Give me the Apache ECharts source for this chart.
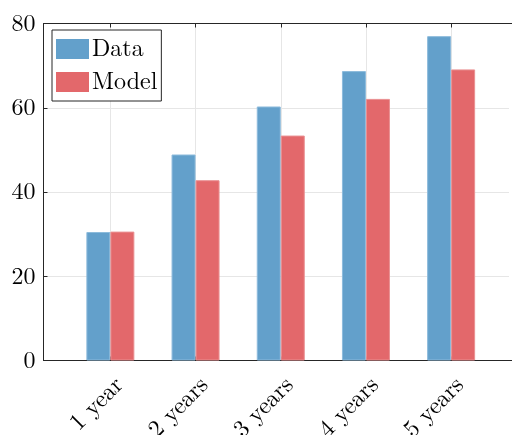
<!DOCTYPE html>
<html>
<head>
<meta charset="utf-8">
<script src="https://cdn.jsdelivr.net/npm/echarts@6/dist/echarts.min.js"></script>
<style>
  html, body { margin: 0; padding: 0; background: #fff; overflow: hidden; }
  #chart { width: 512px; height: 435px; }
</style>
</head>
<body>
<div id="chart"></div>
<script>
// 数据
const categories = ["1 year", "2 years", "3 years", "4 years", "5 years"];
const positions = [1, 2, 3, 4, 5];
const dataValues = [30.5, 48.9, 60.3, 68.7, 77.0];
const modelValues = [30.6, 42.8, 53.4, 62.1, 69.1];
const yTicks = [0, 20, 40, 60, 80];

const font = '"Latin Modern Roman", "Liberation Serif", "DejaVu Serif", serif';
const axisColor = "#262626";

const myChart = echarts.init(document.querySelector("#chart"));

// x轴范围 右边超出画布
const xMin = 0.215;
const xMax = 5.785;

const option = {
  animation: false,
  textStyle: { fontFamily: font },
  grid: {
    left: 43.5,
    top: 23.5,
    right: -6,
    bottom: 74.5,
    containLabel: false,
    outerBoundsMode: "none",
  },
  // 右边缘多出来的竖线 用白条盖住
  graphic: [
    {
      type: "rect",
      right: 0,
      top: 25,
      z: 100,
      shape: { width: 3, height: 334 },
      style: { fill: "#fff" },
      silent: true,
    },
  ],
  legend: {
    data: ["Data", "Model"],
    orient: "vertical",
    left: 52,
    top: 30,
    itemWidth: 33,
    itemHeight: 20,
    itemGap: 9,
    padding: [7, 4, 7, 4],
    borderColor: axisColor,
    borderWidth: 1,
    backgroundColor: "#fff",
    icon: "rect",
    itemStyle: { borderWidth: 0 },
    textStyle: { fontFamily: font, fontSize: 24, color: "#000", padding: [0, 0, 0, -2] },
  },
  xAxis: [
    {
      type: "value",
      min: xMin,
      max: xMax,
      position: "bottom",
      axisLine: { show: true, onZero: false, lineStyle: { color: axisColor, width: 1 } },
      axisTick: {
        show: true,
        inside: true,
        length: 4,
        customValues: positions,
        lineStyle: { color: axisColor },
      },
      axisLabel: {
        customValues: positions,
        formatter: (v) => categories[Math.round(v) - 1] || "",
        rotate: 45,
        align: "right",
        verticalAlign: "top",
        margin: 12,
        fontFamily: font,
        fontSize: 24,
        color: "#000",
      },
      splitLine: { show: true, lineStyle: { color: "#e6e6e6", width: 1 } },
    },
    {
      type: "value",
      min: xMin,
      max: xMax,
      position: "top",
      axisLine: { show: true, onZero: false, lineStyle: { color: axisColor, width: 1 } },
      axisTick: {
        show: true,
        inside: true,
        length: 4,
        customValues: positions,
        lineStyle: { color: axisColor },
      },
      axisLabel: { show: false },
      splitLine: { show: false },
    },
  ],
  yAxis: {
    type: "value",
    min: yTicks[0],
    max: yTicks[yTicks.length - 1],
    interval: 20,
    axisLine: { show: true, onZero: false, lineStyle: { color: axisColor, width: 1 } },
    axisTick: { show: true, inside: true, length: 4, lineStyle: { color: axisColor } },
    axisLabel: { margin: 8, fontFamily: font, fontSize: 24, color: "#000" },
    splitLine: { show: true, lineStyle: { color: "#e6e6e6", width: 1 } },
  },
  series: [
    {
      name: "Data",
      type: "bar",
      barWidth: 24,
      barGap: "0%",
      data: positions.map((p, i) => [p, dataValues[i]]),
      itemStyle: { color: "#63a0cb", borderColor: "#8dbbdc", borderWidth: 1 },
    },
    {
      name: "Model",
      type: "bar",
      barWidth: 24,
      barGap: "0%",
      data: positions.map((p, i) => [p, modelValues[i]]),
      itemStyle: { color: "#e3686b", borderColor: "#ea9092", borderWidth: 1 },
    },
  ],
};

myChart.setOption(option);
</script>
</body>
</html>
